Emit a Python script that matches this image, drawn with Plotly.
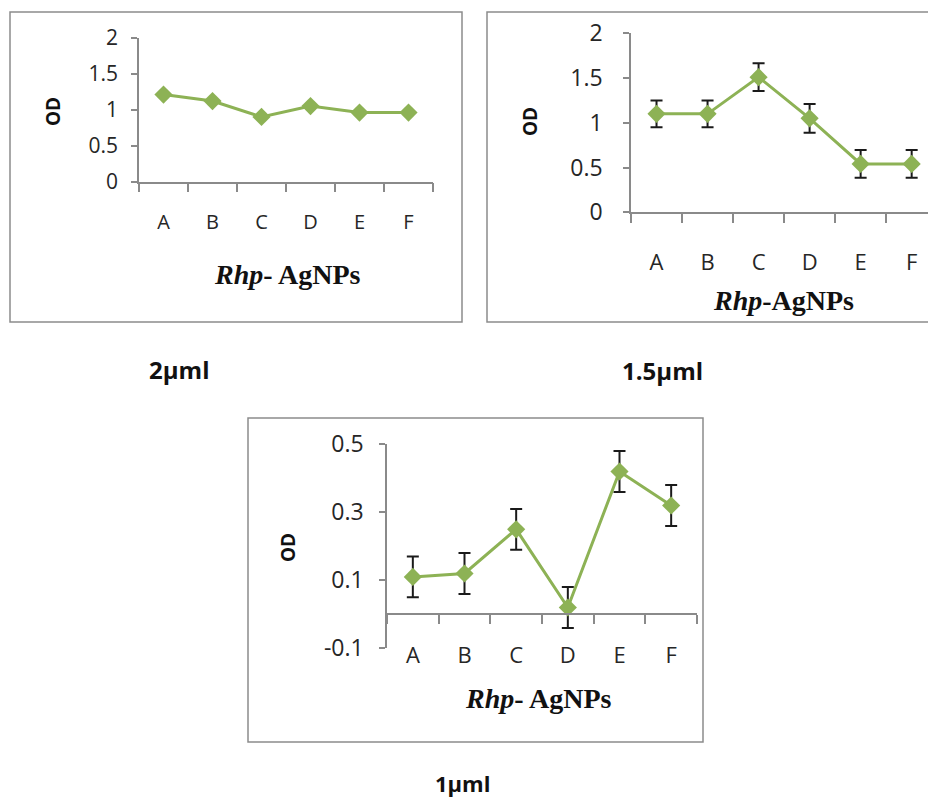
import plotly.graph_objects as go

# ---------------- data ----------------
categories = ["A", "B", "C", "D", "E", "F"]
od_2uml = [1.21, 1.12, 0.90, 1.05, 0.96, 0.96]
od_15uml = [1.10, 1.10, 1.51, 1.05, 0.54, 0.54]
err_15uml = [0.15, 0.15, 0.155, 0.16, 0.155, 0.155]
od_1uml = [0.11, 0.12, 0.25, 0.02, 0.42, 0.32]
err_1uml = [0.06, 0.06, 0.06, 0.06, 0.06, 0.06]
yticks_top = [0, 0.5, 1, 1.5, 2]
yticks_bottom = [-0.1, 0.1, 0.3, 0.5]
panel_labels = ["2µml", "1.5µml", "1µml"]
x_titles = ["<b><i>Rhp</i>- AgNPs</b>", "<b><i>Rhp</i>-AgNPs</b>", "<b><i>Rhp</i>- AgNPs</b>"]
y_title = "<b>OD</b>"

W, H = 928, 801
GREEN = "#8DB255"
AXIS = "#8A8A8A"
TXT = "#262626"
FONT = "Open Sans"


def px(x):
    return x / W


def py(y):
    return 1 - y / H


fig = go.Figure()

common = dict(mode="lines+markers", line=dict(color=GREEN, width=3),
              marker=dict(symbol="diamond", size=14, color=GREEN),
              cliponaxis=False, showlegend=False)

fig.add_trace(go.Scatter(x=categories, y=od_2uml, xaxis="x", yaxis="y", **common))
fig.add_trace(go.Scatter(x=categories, y=od_15uml, xaxis="x2", yaxis="y2",
                         error_y=dict(type="data", array=err_15uml, color="#1a1a1a",
                                      thickness=2, width=6), **common))
fig.add_trace(go.Scatter(x=categories, y=od_1uml, xaxis="x3", yaxis="y3",
                         error_y=dict(type="data", array=err_1uml, color="#1a1a1a",
                                      thickness=2, width=6), **common))
# invisible helper trace for the zero-line category axis of panel 3
fig.add_trace(go.Scatter(x=categories, y=od_1uml, xaxis="x4", yaxis="y3",
                         mode="markers", marker=dict(opacity=0), hoverinfo="skip",
                         showlegend=False))

tickfont_small = dict(family=FONT, size=21, color=TXT)
tickfont_big = dict(family=FONT, size=23, color=TXT)
catfont_small = dict(family=FONT, size=20, color=TXT)
catfont_big = dict(family=FONT, size=22, color=TXT)

xbase = dict(type="category", showline=True, linecolor=AXIS, linewidth=1.5,
             ticks="outside", tickson="boundaries", ticklen=9, tickcolor=AXIS,
             tickwidth=1.5, showgrid=False, zeroline=False, fixedrange=True,
             automargin=False)
ybase = dict(showline=True, linecolor=AXIS, linewidth=1.5, ticks="outside",
             ticklen=6, tickcolor=AXIS, tickwidth=1.5, showgrid=False,
             zeroline=False, fixedrange=True, automargin=False)

y3_dom = [py(648.3), py(444.3)]
y3_range = [-0.1, 0.5]
zero_pos = y3_dom[0] + (0 - y3_range[0]) / (y3_range[1] - y3_range[0]) * (y3_dom[1] - y3_dom[0])

fig.update_layout(
    width=W, height=H,
    margin=dict(l=0, r=0, t=0, b=0, pad=0, autoexpand=False),
    paper_bgcolor="white", plot_bgcolor="rgba(0,0,0,0)",
    xaxis=dict(xbase, domain=[px(139), px(433)], anchor="y", range=[-0.5, 5.5],
               tickfont=catfont_small, ticklabelstandoff=22),
    yaxis=dict(ybase, domain=[py(181.7), py(37.7)], anchor="x", range=[0, 2],
               tickvals=yticks_top, ticktext=[str(v) for v in yticks_top],
               tickfont=tickfont_small, ticklabelstandoff=9),
    xaxis2=dict(xbase, domain=[px(631), 1], anchor="y2", range=[-0.5, 5.32],
                tickfont=catfont_big, ticklabelstandoff=30),
    yaxis2=dict(ybase, domain=[py(212.3), py(33.3)], anchor="x2", range=[0, 2],
                tickvals=yticks_top, ticktext=[str(v) for v in yticks_top],
                tickfont=tickfont_big, ticklabelstandoff=16),
    xaxis3=dict(type="category", domain=[px(387), px(697)], anchor="y3",
                range=[-0.5, 5.5], showline=False, ticks="", showgrid=False,
                zeroline=False, tickfont=catfont_big, ticklabelstandoff=-8,
                fixedrange=True, automargin=False),
    xaxis4=dict(xbase, overlaying="x3", anchor="free", position=zero_pos,
                range=[-0.5, 5.5], showticklabels=False, side="bottom"),
    yaxis3=dict(ybase, domain=y3_dom, anchor="x3", range=y3_range,
                tickvals=yticks_bottom, ticktext=[str(v) for v in yticks_bottom],
                tickfont=tickfont_big, ticklabelstandoff=11),
)

# panel frames
frames = [(10, 12, 462, 322), (487, 12, 940, 322), (248, 418, 703, 742)]
for x0, y0, x1, y1 in frames:
    fig.add_shape(type="rect", xref="paper", yref="paper",
                  x0=px(x0), x1=px(x1), y0=py(y0), y1=py(y1),
                  line=dict(color="#8C8C8C", width=1.5), layer="below")

serif = dict(family="Liberation Serif", size=28, color="#111")
for title, (cx, cy) in zip(x_titles, [(287, 275), (783, 300), (538, 698)]):
    fig.add_annotation(x=px(cx), y=py(cy), xref="paper", yref="paper",
                       text=title, showarrow=False, font=serif,
                       xanchor="center", yanchor="middle")

for (cx, cy) in [(53, 112), (530, 122), (288, 548)]:
    fig.add_annotation(x=px(cx), y=py(cy), xref="paper", yref="paper",
                       text=y_title, showarrow=False, textangle=-90,
                       font=dict(family=FONT, size=19, color="#111"),
                       xanchor="center", yanchor="middle")

for lab, (cx, cy), fs in zip(panel_labels, [(179, 369), (662, 370), (462, 783)], [24, 24, 22]):
    fig.add_annotation(x=px(cx), y=py(cy), xref="paper", yref="paper",
                       text="<b>" + lab + "</b>", showarrow=False,
                       font=dict(family=FONT, size=fs, color="#111"),
                       xanchor="center", yanchor="middle")

fig.write_html("out.html")
